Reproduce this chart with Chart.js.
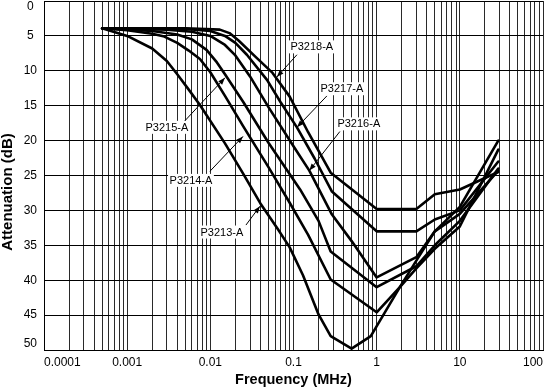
<!DOCTYPE html>
<html><head><meta charset="utf-8">
<script src="https://cdn.jsdelivr.net/npm/chart.js@4.4.0/dist/chart.umd.min.js"></script>
<style>html,body{margin:0;padding:0;background:#fff}canvas{display:block}</style>
</head><body>
<canvas id="c" width="544" height="390"></canvas>
<script>
// ---- data ----
const xTickLabels = ['0.0001', '0.001', '0.01', '0.1', '1', '10', '100'];
const xDecades = [0.0001, 0.001, 0.01, 0.1, 1, 10, 100];

const freqP3218 = [0.0005, 0.005, 0.013, 0.017, 0.022, 0.035, 0.056, 0.09, 0.15, 0.28, 1, 3, 5, 10, 16, 29];
const attP3218  = [3.9, 3.9, 4.1, 4.6, 5.7, 8, 10.3, 13.7, 18.8, 24.6, 29.8, 29.8, 27.7, 27, 25.9, 24.5];

const freqP3217 = [0.0005, 0.005, 0.01, 0.015, 0.02, 0.0275, 0.048, 0.07, 0.11, 0.18, 0.29, 1, 3, 5, 10, 29];
const attP3217  = [3.9, 4.0, 4.3, 5.0, 6.0, 7.7, 11.3, 14.5, 18.1, 22.6, 27.3, 33, 33, 31.3, 30, 23];

const freqP3216 = [0.0005, 0.003, 0.006, 0.01, 0.015, 0.02, 0.03, 0.05, 0.1, 0.155, 0.29, 0.5, 1, 3, 5, 10, 29];
const attP3216  = [3.9, 4.1, 4.4, 5.0, 6.3, 7.8, 10.8, 15.2, 20.8, 24.3, 30.6, 34.4, 39.6, 36.7, 33, 30.5, 24.3];

const freqP3215 = [0.0005, 0.002, 0.004, 0.006, 0.009, 0.012, 0.015, 0.025, 0.05, 0.12, 0.2, 0.28, 1, 3, 5, 10, 29];
const attP3215  = [3.9, 4.3, 4.8, 5.5, 7, 8.8, 10.5, 14.5, 20.3, 27, 31.5, 35.9, 41, 38, 35, 31.5, 24];

const freqP3214 = [0.0005, 0.001, 0.002, 0.0028, 0.004, 0.0055, 0.0075, 0.01, 0.015, 0.025, 0.05, 0.09, 0.15, 0.28, 1, 1.9, 3, 5, 10, 29];
const attP3214  = [3.9, 4.2, 4.7, 5.1, 6.0, 7.1, 8.3, 10.2, 13.6, 18, 23.8, 28.9, 33.5, 39.9, 44.6, 41, 38.3, 35.5, 32.3, 21.3];

const freqP3213 = [0.0005, 0.001, 0.002, 0.003, 0.004, 0.0055, 0.0075, 0.015, 0.025, 0.04, 0.065, 0.09, 0.13, 0.2, 0.28, 0.5, 0.85, 1.9, 3, 5, 10, 29];
const attP3213  = [3.9, 5.0, 6.8, 8.6, 10.5, 12.7, 14.9, 20.4, 24.8, 29, 32.7, 35.3, 39.3, 44.9, 48, 49.8, 48, 41, 37.2, 33, 29.5, 20];

// callout labels (text position, arrow tail, arrow tip) in data units
const calloutText  = ['P3218-A', 'P3217-A', 'P3216-A', 'P3215-A', 'P3214-A', 'P3213-A'];
const calloutFreq  = [0.166, 0.382, 0.61, 0.003, 0.00585, 0.01377];
const calloutAtt   = [6.57, 12.57, 17.6, 18.1, 25.7, 33.1];
const tailFreq     = [0.11, 0.252, 0.361, 0.00482, 0.00988, 0.0268];
const tailAtt      = [7.7, 13.6, 18.7, 17.3, 24.4, 32.1];
const tipFreq      = [0.063, 0.11, 0.155, 0.015, 0.0247, 0.0395];
const tipAtt       = [10.9, 18.1, 24.3, 11, 19.4, 29.4];

// ---- build ----
const series = [
  ['P3218-A', freqP3218, attP3218],
  ['P3217-A', freqP3217, attP3217],
  ['P3216-A', freqP3216, attP3216],
  ['P3215-A', freqP3215, attP3215],
  ['P3214-A', freqP3214, attP3214],
  ['P3213-A', freqP3213, attP3213],
];
const xTickValues = [];
xDecades.forEach((d, i) => {
  if (i === xDecades.length - 1) { xTickValues.push(d); return; }
  for (let m = 1; m <= 9; m++) xTickValues.push(+(d * m).toPrecision(6));
});
function decadeLabel(v) {
  const l = Math.log10(v);
  const r = Math.round(l);
  if (Math.abs(l - r) < 1e-6) {
    const idx = xDecades.findIndex(d => Math.abs(Math.log10(d) - r) < 1e-6);
    return idx >= 0 ? xTickLabels[idx] : '';
  }
  return '';
}
function patchY(s) {
  if (s.__patched) return;
  const orig = s._computeLabelItems;
  s._computeLabelItems = function (ca) {
    const items = orig.call(this, ca);
    items.forEach(it => {
      if (String(it.label) === '0') it.options.textBaseline = 'top';
      if (String(it.label) === '50') it.options.textBaseline = 'bottom';
    });
    return items;
  };
  s.__patched = true;
}

const FONT = "'Liberation Sans', Arial, Helvetica, sans-serif";
Chart.defaults.font.family = FONT;
Chart.defaults.color = '#000';

const callouts = {
  id: 'callouts',
  afterDatasetsDraw(chart) {
    const ctx = chart.ctx, xs = chart.scales.x, ys = chart.scales.y;
    ctx.save();
    ctx.strokeStyle = '#000'; ctx.fillStyle = '#000'; ctx.lineWidth = 1;
    for (let i = 0; i < calloutText.length; i++) {
      const tx = xs.getPixelForValue(tailFreq[i]), ty = ys.getPixelForValue(tailAtt[i]);
      const px = xs.getPixelForValue(tipFreq[i]), py = ys.getPixelForValue(tipAtt[i]);
      ctx.beginPath(); ctx.moveTo(tx, ty); ctx.lineTo(px, py); ctx.stroke();
      const a = Math.atan2(py - ty, px - tx), L = 7, W = 2.6;
      ctx.beginPath();
      ctx.moveTo(px, py);
      ctx.lineTo(px - L * Math.cos(a) + W * Math.sin(a), py - L * Math.sin(a) - W * Math.cos(a));
      ctx.lineTo(px - L * Math.cos(a) - W * Math.sin(a), py - L * Math.sin(a) + W * Math.cos(a));
      ctx.closePath(); ctx.fill();
    }
    ctx.font = '11px ' + FONT;
    ctx.textAlign = 'center'; ctx.textBaseline = 'middle';
    for (let i = 0; i < calloutText.length; i++) {
      const cx = xs.getPixelForValue(calloutFreq[i]), cy = ys.getPixelForValue(calloutAtt[i]);
      const w = ctx.measureText(calloutText[i]).width + 3;
      ctx.fillStyle = '#fff';
      ctx.fillRect(cx - w / 2, cy - 6.5, w, 13);
      ctx.fillStyle = '#000';
      ctx.fillText(calloutText[i], cx, cy + 0.5);
    }
    ctx.restore();
  },
  afterDraw(chart) {
    const ctx = chart.ctx;
    ctx.save();
    ctx.translate(8, 192);
    ctx.rotate(-Math.PI / 2);
    ctx.font = 'bold 15px ' + FONT;
    ctx.fillStyle = '#000';
    ctx.textAlign = 'center'; ctx.textBaseline = 'middle';
    ctx.fillText('Attenuation (dB)', 0, 0);
    ctx.restore();
  }
};

new Chart(document.getElementById('c'), {
  type: 'line',
  data: {
    datasets: series.map(([name, f, a]) => ({
      label: name,
      data: f.map((v, i) => ({ x: v, y: a[i] })),
      borderColor: '#000',
      borderWidth: 2.6,
      pointRadius: 0,
      fill: false,
      tension: 0,
      borderJoinStyle: 'round',
      borderCapStyle: 'round',
    }))
  },
  options: {
    responsive: false,
    devicePixelRatio: 1,
    animation: false,
    layout: { padding: { top: 1, right: 1, left: 0, bottom: 0 } },
    plugins: { legend: { display: false }, tooltip: { enabled: false } },
    scales: {
      x: {
        type: 'logarithmic',
        min: 0.0001, max: 100,
        afterBuildTicks: s => { s.ticks = xTickValues.map(v => ({ value: v })); },
        afterFit: s => { s.height = 40; s.paddingLeft = 0; s.paddingRight = 0; },
        ticks: { autoSkip: false, maxRotation: 0, minRotation: 0, align: 'inner', padding: 5,
                 color: '#000', font: { size: 12 }, callback: v => decadeLabel(v) },
        grid: { color: '#2a2a2a', lineWidth: 1, drawTicks: false },
        border: { display: true, color: '#000', width: 1 },
        title: { display: true, text: 'Frequency (MHz)', color: '#000',
                 font: { size: 14.5, weight: 'bold' }, padding: { top: 0, bottom: 1 } }
      },
      y: {
        type: 'linear', reverse: true, min: 0, max: 50,
        afterFit: s => { s.width = 44; s.paddingTop = 0; s.paddingBottom = 0; patchY(s); },
        ticks: { stepSize: 5, padding: 7, crossAlign: 'center', color: '#000', font: { size: 12 } },
        grid: { color: '#000', lineWidth: 1, drawTicks: false },
        border: { display: true, color: '#000', width: 1 }
      }
    }
  },
  plugins: [callouts]
});
</script>
</body></html>
